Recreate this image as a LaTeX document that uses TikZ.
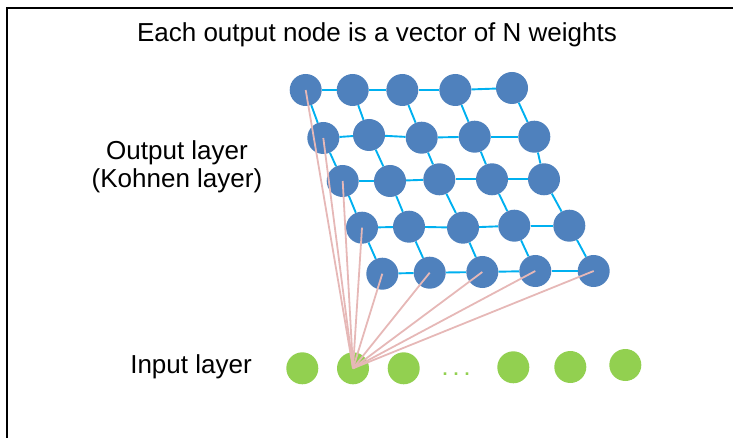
\documentclass[tikz,border=0pt]{standalone}
\usepackage{fontspec}
\setmainfont{Liberation Sans}
\definecolor{kblue}{RGB}{79,129,189}
\definecolor{kgreen}{RGB}{146,208,80}
\definecolor{kcyan}{RGB}{0,176,240}
\definecolor{kpink}{RGB}{230,184,183}
\begin{document}
\begin{tikzpicture}[x=1pt,y=-1pt]
\tikzstyle{every node}+=[inner sep=0pt]
\tikzstyle{outunit}=[circle,fill=kblue,minimum size=32pt]
\tikzstyle{inunit}=[circle,fill=kgreen,minimum size=32pt]
\tikzstyle{lbl}=[font=\fontsize{26}{30}\selectfont,anchor=base]
\tikzstyle{link}=[kcyan,line width=1.9pt]
\tikzstyle{weight}=[kpink,line width=1.8pt]
\useasboundingbox (0,0) rectangle (733,438);
\draw [black,line width=2pt] (7,438) -- (7,8) -- (733,8);
% labels
\node [lbl] (title) at (377,41.7) {Each output node is a vector of N weights};
\node [lbl] (outlbl) at (177,160) {Output layer};
\node [lbl] (kohlbl) at (177,188) {(Kohnen layer)};
\node [lbl] (inlbl) at (191,373.3) {Input layer};
% output layer
\node [outunit] (o11) at (305.7,90) {};
\node [outunit] (o12) at (352.7,90) {};
\node [outunit] (o13) at (402.3,90) {};
\node [outunit] (o14) at (455.3,90) {};
\node [outunit] (o15) at (512,88) {};
\node [outunit] (o21) at (323.3,138) {};
\node [outunit] (o22) at (369,135) {};
\node [outunit] (o23) at (421.7,137.7) {};
\node [outunit] (o24) at (474.7,136.7) {};
\node [outunit] (o25) at (534.3,136.7) {};
\node [outunit] (o31) at (342.7,181) {};
\node [outunit] (o32) at (390,181) {};
\node [outunit] (o33) at (439.3,179.3) {};
\node [outunit] (o34) at (492,179.3) {};
\node [outunit] (o35) at (544,179.3) {};
\node [outunit] (o41) at (362,227.7) {};
\node [outunit] (o42) at (409,226.7) {};
\node [outunit] (o43) at (463,227.7) {};
\node [outunit] (o44) at (514.3,225.7) {};
\node [outunit] (o45) at (569.3,225.7) {};
\node [outunit] (o51) at (382.3,273.7) {};
\node [outunit] (o52) at (429.7,272.7) {};
\node [outunit] (o53) at (482.3,272) {};
\node [outunit] (o54) at (535.3,271) {};
\node [outunit] (o55) at (593.7,271) {};
% input layer
\node [inunit] (i1) at (302.3,368.3) {};
\node [inunit] (i2) at (353,368.3) {};
\node [inunit] (i3) at (403.7,368.3) {};
\node [text=kgreen,font=\bfseries\fontsize{18}{20}\selectfont,anchor=base] (dots) at (456,375) {.\,\,.\,\,.};
\node [inunit] (i4) at (513.3,367.3) {};
\node [inunit] (i5) at (570.3,367) {};
\node [inunit] (i6) at (625.3,365) {};
% grid
\foreach \r in {1,...,5}
  \foreach \c [count=\n from 2] in {1,...,4}
    \draw [link] (o\r\c) -- (o\r\n);
\foreach \r [count=\s from 2] in {1,...,4}
  \foreach \c in {1,...,5}
    \draw [link] (o\r\c) -- (o\s\c);
% weights
\foreach \r in {1,...,4}
  \draw [weight] (i2.center) -- (o\r1.center);
\foreach \c in {1,...,5}
  \draw [weight] (i2.center) -- (o5\c.center);
\end{tikzpicture}
\end{document}
